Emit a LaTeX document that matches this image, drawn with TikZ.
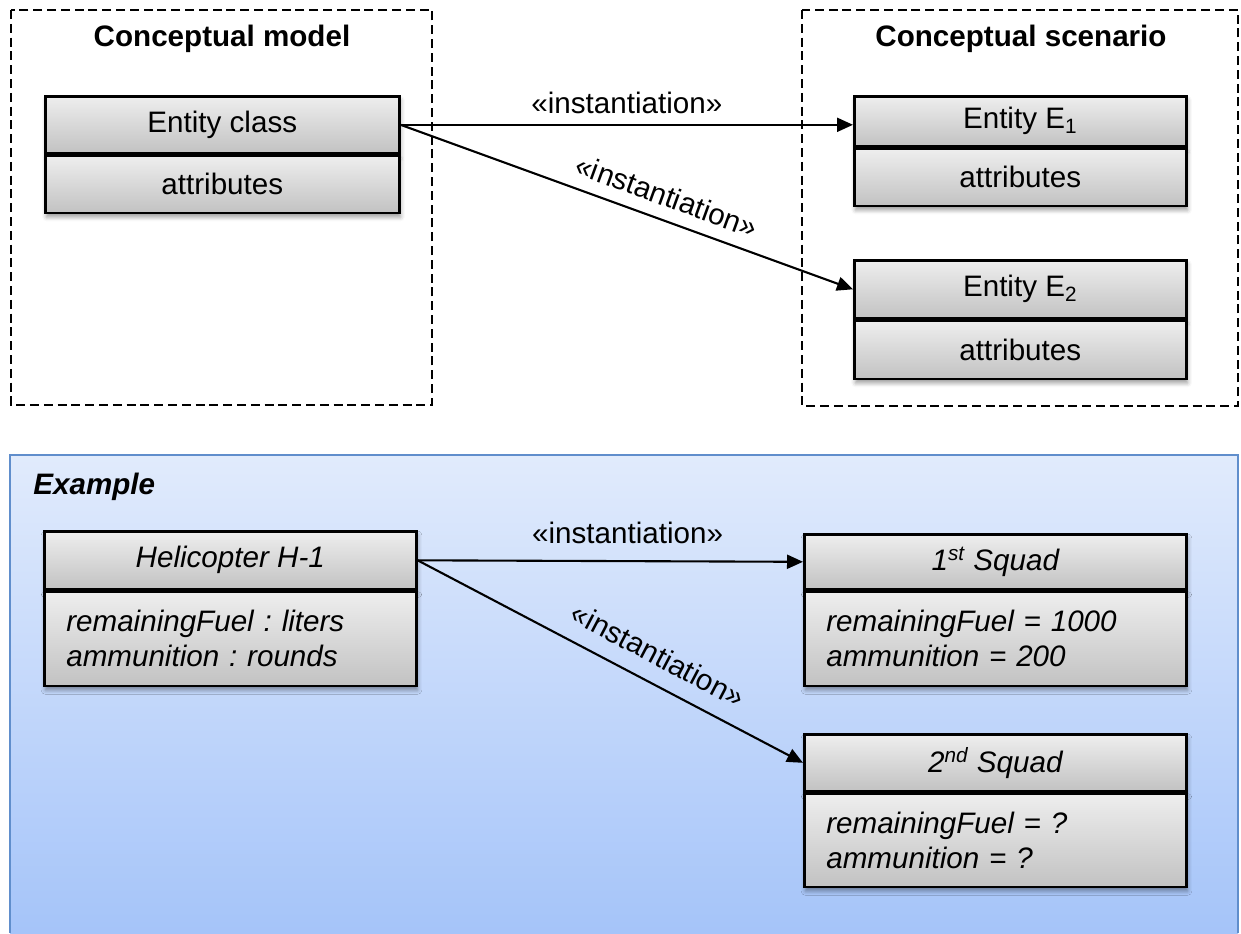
\documentclass[tikz,border=0pt]{standalone}
\usepackage{fontspec}
\setmainfont{Liberation Sans}
\usetikzlibrary{arrows.meta,shadows.blur}
\definecolor{cellTop}{RGB}{238,238,238}
\definecolor{cellBot}{RGB}{194,194,194}
\definecolor{panelTop}{RGB}{225,235,252}
\definecolor{panelBot}{RGB}{165,196,249}
\definecolor{panelLine}{RGB}{96,142,204}
\newcommand\lblsz{\fontsize{14.8}{17.5}\selectfont\frenchspacing}

\begin{document}
\begin{tikzpicture}[x=0.5pt,y=-0.5pt,
  every node/.style={font=\lblsz},
  cell/.style={draw=black, line width=1.3pt, top color=cellTop,
    bottom color=cellBot, inner sep=0pt, minimum height=#1,
    blur shadow={shadow xshift=0.6pt, shadow yshift=-2pt,
      shadow blur radius=2.2pt, shadow opacity=40}},
  slot/.style={cell=#1, align=left, inner xsep=11pt, font=\lblsz\itshape},
  title/.style={font=\lblsz\bfseries},
  frame/.style={draw=black, line width=1.25pt, dash pattern=on 4.5pt off 2.4pt},
  conn/.style={draw=black, line width=1.05pt, -{Triangle[length=8pt,width=7pt]}}
]
\useasboundingbox (0,0) rectangle (1241,933);

% example panel, behind everything of the lower part
\shade[top color=panelTop, bottom color=panelBot] (10,455) rectangle (1238,933);
\draw[panelLine, line width=1pt] (10,933) -- (10,455) -- (1238,455) -- (1238,933);

% containers of the upper part
\draw[frame] (11,10) rectangle (432,405);
\draw[frame] (802,10) rectangle (1238,406);
\node[title] (tModel) at (222,39) {Conceptual model};
\node[title] (tScen) at (1021,39) {Conceptual scenario};

% class and its two instances
\node[cell=28.5pt, minimum width=177pt, anchor=north west] (ecH) at (44,95) {Entity class};
\node[cell=28.5pt, minimum width=177pt, anchor=north] (ecA) at (ecH.south) {attributes};

\node[cell=25pt, minimum width=166pt, anchor=north west] (e1H) at (853,95) {Entity E\textsubscript{1}};
\node[cell=28.5pt, minimum width=166pt, anchor=north] (e1A) at (e1H.south) {attributes};

\node[cell=29pt, minimum width=166pt, anchor=north west] (e2H) at (853,259) {Entity E\textsubscript{2}};
\node[cell=29pt, minimum width=166pt, anchor=north] (e2A) at (e2H.south) {attributes};

\draw[conn] (ecH.east) -- (ecH.east -| e1H.west)
  node[midway, above=1.5pt] (l1) {«instantiation»};
\draw[conn] (ecH.east) -- (e2H.west)
  node[pos=0.57, sloped, above=2.8pt] (l2) {«instantiation»};

% the worked example
\node[font=\lblsz\bfseries\itshape, anchor=west, inner sep=0pt] (tEx) at (33,487) {Example};

\node[cell=29pt, minimum width=186pt, anchor=north west, font=\lblsz\itshape] (hH) at (43,530) {Helicopter H-1};
\node[slot=47pt, text width=164pt, anchor=north] (hA) at (hH.south)
  {remainingFuel : liters\\ammunition : rounds};

\node[cell=27.5pt, minimum width=191pt, anchor=north west, font=\lblsz\itshape] (s1H) at (803,533) {1\textsuperscript{st} Squad};
\node[slot=47pt, text width=169pt, anchor=north] (s1A) at (s1H.south)
  {remainingFuel = 1000\\ammunition = 200};

\node[cell=28.5pt, minimum width=191pt, anchor=north west, font=\lblsz\itshape] (s2H) at (803,733) {2\textsuperscript{nd} Squad};
\node[slot=46.5pt, text width=169pt, anchor=north] (s2A) at (s2H.south)
  {remainingFuel = ?\\ammunition = ?};

\draw[conn] (hH.east) -- (s1H.west)
  node[pos=0.545, above=4.8pt] (l3) {«instantiation»};
\draw[conn] (hH.east) -- (s2H.west)
  node[pos=0.59, sloped, above=4.8pt] (l4) {«instantiation»};
\end{tikzpicture}
\end{document}
